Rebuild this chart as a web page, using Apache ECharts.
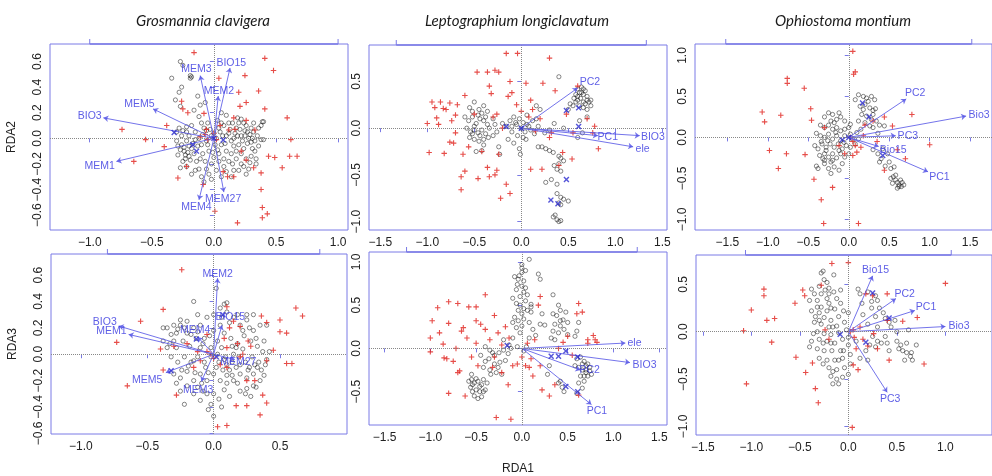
<!DOCTYPE html>
<html><head><meta charset="utf-8">
<script src="https://cdn.jsdelivr.net/npm/echarts@6/dist/echarts.min.js"></script>
<style>html,body{margin:0;padding:0;background:#fff}#c{width:992px;height:476px}</style>
</head><body><div id="c"></div>
<script>
// ---------- DATA ----------
const panelTitles = ['Grosmannia clavigera', 'Leptographium longiclavatum', 'Ophiostoma montium'];
const axisTitles = {rda1: 'RDA1', rda2: 'RDA2', rda3: 'RDA3'};

// tick labels
const ticksX1 = [-1, -0.5, 0, 0.5, 1];
const ticksY1 = [-0.6, -0.4, -0.2, 0, 0.2, 0.4, 0.6];
const ticksX2 = [-1.5, -1, -0.5, 0, 0.5, 1, 1.5];
const ticksY2 = [-1, -0.5, 0, 0.5];
const ticksX3 = [-1.5, -1, -0.5, 0, 0.5, 1, 1.5];
const ticksY3 = [-1, -0.5, 0, 0.5, 1];
const ticksX4 = [-1, -0.5, 0, 0.5];
const ticksY4 = [-0.6, -0.4, -0.2, 0, 0.2, 0.4, 0.6];
const ticksX5 = [-1.5, -1, -0.5, 0, 0.5, 1, 1.5];
const ticksY5 = [-0.5, 0, 0.5, 1];
const ticksX6 = [-1.5, -1, -0.5, 0, 0.5, 1, 1.5];
const ticksY6 = [-1, -0.5, 0, 0.5];

// Panel 1: Grosmannia clavigera, RDA1 vs RDA2
const p1Circles = [[-0.27,0.60],[-0.25,0.57],[-0.34,0.47],[-0.19,0.47],[-0.18,0.48],[-0.19,0.49],[-0.26,0.40],[-0.28,0.36],[-0.31,0.30],[-0.27,0.25],[-0.13,0.33],[-0.11,0.26],[-0.07,0.28],[-0.16,0.22],
[-0.28,0.08],[-0.25,0.06],[-0.22,0.09],[-0.3,-0.02],[-0.26,-0.05],[-0.24,-0.1],[-0.29,-0.13],[-0.25,-0.18],[-0.22,-0.22],[-0.27,-0.23],[-0.2,-0.14],[-0.18,-0.08],[-0.16,-0.12],[-0.14,-0.18],[-0.12,-0.24],[-0.1,-0.3],[-0.08,-0.34],[-0.18,-0.28],[-0.15,-0.25],[-0.2,0.02],[-0.15,0.05],[-0.12,0.0],[-0.1,-0.05],[-0.08,0.08],[-0.05,0.12],[-0.04,-0.1],[-0.02,-0.2],[0.0,-0.15],[0.02,-0.25],[0.04,-0.12],[0.06,-0.05],[0.05,0.05],[0.03,0.14],[0.08,0.1],[0.1,0.18],[0.12,0.04],[0.14,-0.02],[0.1,-0.1],[0.12,-0.18],[0.15,-0.2],[0.18,-0.1],[0.2,-0.05],[0.22,0.02],[0.18,0.08],[0.2,0.12],[0.25,0.06],[0.28,0.0],[0.3,-0.03],[0.32,0.05],[0.35,0.02],[0.38,-0.01],[0.36,-0.06],[0.33,-0.1],[0.3,-0.14],[0.26,-0.16],[0.24,-0.22],[0.2,-0.25],[0.28,-0.24],[0.32,0.12],[0.38,0.1],[0.4,0.13],[0.22,0.15],[0.15,0.12],[0.06,0.2],[0.0,0.04],[-0.02,0.02],[0.01,-0.05],[-0.06,-0.02],[0.08,-0.22],[0.06,-0.3],[-0.04,-0.28],[0.16,0.0],[0.26,0.1],[0.3,0.08],[-0.1,0.12],[-0.22,-0.02],[-0.2,-0.06],[-0.17,-0.04],[-0.26,0.02],[-0.3,0.05],[0.16,-0.06],[0.24,-0.08],[0.34,-0.16],[0.04,0.08],[-0.06,0.06],[0.1,0.02],[0.39,0.13],[0.4,-0.01],[0.26,-0.28],[0.14,-0.3],[-0.23,-0.16],[0.03,-0.09],
[-0.24,-0.07],[-0.21,-0.11],[-0.19,-0.17],[-0.23,-0.13],[-0.27,-0.09],[-0.13,-0.06],[-0.09,-0.12],[-0.07,-0.18],[-0.11,-0.16],[-0.05,-0.05],[0.02,0.0],[0.07,0.02],[0.09,-0.04],[0.13,0.07],[0.17,0.04],[0.19,0.02],[0.21,0.07],[0.23,-0.02],[0.25,0.02],[0.27,0.05],[0.29,0.03],[0.31,0.0],[0.33,-0.02],[0.27,-0.04],[0.22,-0.12],[0.18,-0.16],[0.14,-0.12],[0.08,-0.16],[0.04,-0.18],[-0.01,-0.11],[0.36,0.08],[0.34,-0.2],[0.29,-0.19],[0.31,-0.08],[0.12,0.12],[0.19,0.16],[0.24,0.12],[-0.03,0.07],[-0.09,0.03],[-0.15,-0.01],[-0.22,0.05],[-0.29,-0.06],[-0.18,0.1],[-0.12,0.17],[-0.02,-0.32],[0.1,-0.26],[-0.06,-0.24],[0.16,-0.25],[0.22,-0.2],[0.06,0.12]];
const p1Crosses = [[-0.16,0.67],[0.41,0.625],[0.48,0.53],[0.25,0.49],[0.04,0.47],[0.36,0.37],[0.41,0.23],[0.59,0.16],[0.2,0.36],[0.26,0.28],[-0.26,0.29],[-0.25,0.23],[-0.21,0.2],[-0.38,0.10],[-0.74,0.07],[-0.55,-0.01],[-0.645,-0.18],[-0.40,-0.065],[-0.29,-0.31],[-0.22,-0.22],[-0.086,-0.36],[0.008,-0.57],[0.19,-0.66],[0.39,-0.62],[0.43,-0.59],[0.39,-0.54],[0.38,-0.40],[0.38,-0.27],[0.55,-0.23],[0.61,-0.14],[0.67,-0.14],[0.49,-0.15],[0.44,-0.14],[0.62,-0.01],[0.32,-0.23],[0.26,-0.17],[0.16,-0.30],[0.11,-0.30],[0.075,-0.26],[0.21,0.25],[0.16,0.16],[0.12,0.065],[0.17,0.07],[0.26,0.14],[0.33,0.065],[-0.08,0.195],[-0.06,0.07],[-0.11,0.01],[-0.05,-0.01],[0.02,-0.01],[-0.07,0.03],[0.0,0.04],[0.22,-0.1],[0.05,0.1]];
const p1Centroids = [[-0.32,0.045],[-0.14,-0.10],[0.075,-0.013],[-0.17,-0.05],[0.0,0.0]];
const p1ArrowNames = ['BIO15','MEM3','MEM2','MEM5','BIO3','MEM1','MEM4','MEM27'];
const p1ArrowEnds = [[0.13,0.55],[-0.11,0.49],[0.035,0.33],[-0.49,0.23],[-0.89,0.16],[-0.785,-0.18],[-0.12,-0.48],[0.08,-0.42]];
const p1LabelPos = [[0.14,0.59],[-0.14,0.54],[0.04,0.37],[-0.6,0.268],[-1.0,0.17],[-0.92,-0.216],[-0.14,-0.534],[0.075,-0.474]];

// Panel 2: Leptographium longiclavatum, RDA1 vs RDA2
const p2Circles = [[-0.55,0.22],[-0.5,0.28],[-0.45,0.2],[-0.4,0.24],[-0.36,0.18],[-0.6,0.12],[-0.56,0.08],[-0.52,0.12],[-0.48,0.05],[-0.44,0.1],[-0.4,0.08],[-0.36,0.04],[-0.58,0.0],[-0.54,-0.04],[-0.5,-0.02],[-0.46,-0.05],[-0.42,-0.02],[-0.38,-0.06],[-0.34,0.0],[-0.55,-0.1],[-0.5,-0.12],[-0.45,-0.14],[-0.4,-0.12],[-0.35,-0.1],[-0.3,-0.08],[-0.48,-0.25],[-0.42,-0.24],[-0.3,0.1],[-0.28,0.04],[-0.26,-0.04],[-0.24,-0.2],[-0.23,-0.28],
[-0.2,0.05],[-0.16,0.02],[-0.12,0.08],[-0.1,-0.04],[-0.08,0.12],[-0.05,0.04],[-0.04,-0.08],[-0.02,0.1],[0.0,0.0],[0.02,0.06],[0.04,-0.04],[0.06,0.14],[0.08,0.02],[0.1,-0.02],[0.12,0.08],[0.14,-0.06],[0.16,0.1],[0.18,0.02],[-0.14,-0.12],[-0.08,-0.16],[-0.02,-0.22],[-0.01,-0.28],[0.05,-0.12],[0.2,0.2],[0.16,0.24],
[0.18,-0.2],[0.22,-0.2],[0.26,-0.22],[0.3,-0.24],[0.34,-0.26],[0.4,-0.3],[0.42,-0.32],[0.45,-0.35],[0.4,-0.38],[0.35,-0.4],[0.38,-0.44],[0.42,-0.46],[0.32,-0.55],[0.26,-0.58],[0.38,-0.7],[0.42,-0.74],[0.45,-0.76],[0.4,-0.8],[0.5,-0.78],[0.34,-0.95],[0.38,-0.98],[0.4,-1.0],[0.42,-0.99],[0.36,-0.93],
[0.6,0.42],[0.64,0.44],[0.66,0.42],[0.68,0.4],[0.62,0.38],[0.56,0.32],[0.58,0.28],[0.6,0.3],[0.63,0.32],[0.66,0.36],[0.7,0.34],[0.72,0.28],[0.74,0.24],[0.7,0.2],[0.66,0.22],[0.62,0.24],[0.55,0.24],[0.52,0.26],[0.58,0.36],[0.74,0.3],[0.68,0.26],[0.4,0.55],[0.5,0.2],[0.62,0.08],[0.65,-0.05],[0.6,-0.1],[0.7,0.12],[0.3,-0.02],[0.35,0.05],[0.25,-0.05],[0.45,0.0],
[-0.52,0.18],[-0.46,0.14],[-0.42,0.16],[-0.38,0.12],[-0.5,0.02],[-0.44,-0.08],[-0.52,-0.06],[-0.4,-0.18],[-0.06,0.06],[0.02,-0.1],[0.06,0.04],[-0.1,0.02],[0.64,0.38],[0.6,0.34],[0.7,0.3],[0.66,0.28],[0.38,-0.6],[0.42,-0.82]];
const p2Crosses = [[-1.0,0.05],[-0.98,-0.26],[-0.95,0.28],[-0.92,0.22],[-0.9,0.11],[-0.86,0.28],[-0.83,0.21],[-0.8,0.2],[-0.76,0.27],[-0.74,0.08],[-0.7,0.14],[-0.7,-0.05],[-0.68,0.25],[-0.64,-0.52],[-0.62,-0.28],[-0.6,-0.46],[-0.64,-0.66],[-0.72,-0.16],[-0.76,-0.15],[-0.82,-0.27],[-0.47,0.6],[-0.46,-0.54],[-0.42,-0.25],[-0.36,0.6],[-0.34,0.45],[-0.32,0.37],[-0.28,0.62],[-0.24,0.6],[-0.3,0.12],[-0.26,0.15],[-0.36,-0.42],[-0.34,-0.52],[-0.28,-0.5],[-0.26,-0.45],[-0.24,-0.28],[-0.22,-0.75],[-0.16,-0.6],[-0.12,-0.7],[-0.12,0.5],[-0.1,0.38],[-0.04,0.8],[-0.16,0.8],[-0.05,0.25],[0.05,0.48],[0.1,0.3],[0.12,0.2],[0.08,0.12],[0.2,0.1],[0.23,0.48],[0.3,0.75],[0.36,0.4],[0.32,-0.05],[0.3,-0.1],[0.22,-0.44],[0.1,-0.44],[0.4,-0.4],[0.44,-0.26],[0.54,-0.33],[0.55,-0.05],[0.7,0.1],[0.78,0.02],[0.82,-0.22],[0.76,-0.05],[0.6,0.45],[0.48,0.15],[-0.6,0.35],[-0.5,0.15],[-0.2,0.0],[0.0,0.18],[0.15,-0.03],[-0.14,0.34],[-0.56,-0.2],[-0.88,0.04]];
const p2Centroids = [[-0.16,0.017],[0.48,0.19],[0.61,0.217],[0.61,0.017],[0.48,-0.55],[0.315,-0.77],[0.39,-0.81],[0.0,0.0]];
const p2ArrowNames = ['PC2','PC1','BIO3','ele'];
const p2ArrowEnds = [[0.6,0.43],[0.815,-0.08],[1.26,-0.08],[1.19,-0.2]];
const p2LabelPos = [[0.73,0.49],[0.92,-0.094],[1.40,-0.098],[1.29,-0.227]];

// Panel 3: Ophiostoma montium, RDA1 vs RDA2
const p3Circles = [[-0.3,0.25],[-0.25,0.3],[-0.2,0.28],[-0.15,0.22],[-0.1,0.25],[-0.05,0.2],[-0.35,0.15],[-0.3,0.12],[-0.25,0.15],[-0.2,0.1],[-0.15,0.12],[-0.1,0.08],[-0.05,0.1],[0.0,0.12],[-0.4,0.05],[-0.35,0.02],[-0.3,0.0],[-0.25,0.04],[-0.2,-0.02],[-0.15,0.02],[-0.1,-0.04],[-0.05,0.02],[0.02,0.04],[0.05,-0.02],[-0.42,-0.1],[-0.38,-0.14],[-0.33,-0.08],[-0.28,-0.12],[-0.23,-0.08],[-0.18,-0.12],[-0.13,-0.08],[-0.08,-0.14],[-0.03,-0.1],[0.02,-0.12],[-0.36,-0.22],[-0.3,-0.2],[-0.25,-0.24],[-0.2,-0.2],[-0.15,-0.25],[-0.1,-0.2],[-0.05,-0.24],[0.0,-0.2],[-0.4,-0.35],[-0.38,-0.38],[-0.3,-0.32],[-0.25,-0.38],[-0.18,-0.36],[-0.12,-0.4],[-0.08,-0.32],[-0.22,-0.44],[0.08,-0.08],[0.1,0.06],[0.12,-0.02],[0.15,0.1],[-0.12,0.3],[-0.28,-0.16],[-0.34,-0.05],[-0.18,0.18],[-0.3,-0.28],[-0.22,-0.3],
[0.08,0.46],[0.12,0.52],[0.18,0.5],[0.22,0.48],[0.28,0.5],[0.32,0.46],[0.14,0.38],[0.2,0.4],[0.26,0.36],[0.3,0.33],[0.33,0.35],[0.16,0.28],[0.22,0.26],[0.28,0.22],[0.34,0.2],[0.12,0.2],[0.2,0.18],[0.26,0.14],[0.3,0.12],[0.38,0.15],[0.44,0.14],[0.36,0.05],
[0.3,-0.15],[0.36,-0.2],[0.38,-0.3],[0.4,-0.26],[0.45,-0.35],[0.5,-0.3],[0.52,-0.38],[0.56,-0.36],[0.55,-0.48],[0.52,-0.5],[0.58,-0.52],[0.6,-0.55],[0.62,-0.58],[0.65,-0.6],[0.68,-0.58],[0.66,-0.55],[0.6,-0.62],[0.54,-0.56],[0.48,-0.2],[0.42,-0.14],
[-0.22,0.2],[-0.16,0.06],[-0.26,-0.04],[-0.12,-0.16],[-0.2,-0.28],[-0.32,-0.26],[-0.06,-0.06],[0.02,0.16],[0.24,0.44],[0.18,0.34],[0.3,0.28],[0.62,-0.6],[0.58,-0.46],[0.64,-0.52]];
const p3Crosses = [[-1.07,0.31],[-1.04,0.19],[-0.76,0.72],[-0.76,0.66],[-0.55,0.6],[-0.84,0.27],[-0.47,0.35],[-0.46,0.21],[-0.98,-0.16],[-0.77,-0.2],[-0.54,-0.21],[-0.87,-0.38],[-0.43,-0.51],[-0.34,-0.76],[-0.31,-1.05],[-0.2,-0.61],[0.05,1.05],[0.08,0.8],[0.06,0.77],[0.12,-1.05],[0.44,0.25],[0.54,0.14],[0.78,0.28],[1.0,-0.09],[0.7,-0.26],[0.44,-0.4],[0.02,0.0],[0.05,-0.05],[0.08,-0.1],[0.1,-0.18],[0.15,-0.12],[0.18,0.02],[-0.05,-0.2],[0.2,0.15],[0.3,0.2],[0.35,-0.05],[0.6,-0.15],[0.05,-0.22],[-0.3,0.12],[-0.12,-0.1]];
const p3Centroids = [[0.17,0.42],[0.25,0.25],[-0.08,-0.03],[0.42,-0.22],[0.0,0.0]];
const p3ArrowNames = ['PC2','Bio3','PC3','Bio15','PC1'];
const p3ArrowEnds = [[0.71,0.47],[1.45,0.26],[0.58,0.02],[0.37,-0.11],[0.98,-0.42]];
const p3LabelPos = [[0.82,0.54],[1.61,0.27],[0.73,0.02],[0.55,-0.157],[1.12,-0.49]];

// Panel 4: Grosmannia clavigera, RDA1 vs RDA3
const p4Circles = [[-0.35,0.2],[-0.3,0.22],[-0.25,0.26],[-0.2,0.25],[-0.15,0.2],[-0.1,0.22],[-0.05,0.28],[0.0,0.3],[0.05,0.35],[0.1,0.32],[0.15,0.28],[0.2,0.22],[0.25,0.26],[0.3,0.3],[0.35,0.22],[-0.15,0.4],[0.02,0.5],[0.1,0.39],[0.08,0.38],[-0.38,0.1],[-0.33,0.08],[-0.28,0.05],[-0.23,0.1],[-0.18,0.06],[-0.13,0.12],[-0.08,0.08],[-0.03,0.14],[0.03,0.1],[0.08,0.16],[0.13,0.12],[0.18,0.08],[0.23,0.14],[0.28,0.1],[0.33,0.06],[0.38,0.1],[0.42,0.02],[-0.32,-0.02],[-0.27,-0.06],[-0.22,-0.02],[-0.17,-0.06],[-0.12,-0.02],[-0.07,-0.06],[-0.02,-0.02],[0.04,-0.06],[0.09,-0.02],[0.14,-0.06],[0.19,-0.02],[0.24,-0.06],[0.29,-0.02],[0.34,-0.06],[0.4,-0.04],[-0.3,-0.15],[-0.25,-0.18],[-0.2,-0.13],[-0.15,-0.2],[-0.1,-0.15],[-0.05,-0.2],[0.0,-0.15],[0.05,-0.2],[0.1,-0.16],[0.15,-0.2],[0.2,-0.15],[0.25,-0.18],[0.3,-0.15],[0.36,-0.12],[-0.25,-0.28],[-0.15,-0.3],[-0.08,-0.28],[0.0,-0.3],[0.08,-0.27],[0.12,-0.32],[0.2,-0.28],[0.25,-0.26],[0.28,-0.32],[-0.22,-0.38],[-0.02,-0.38],[0.06,-0.4],[0.0,-0.47],[-0.05,-0.3],[0.3,0.18],[0.15,0.0],[-0.1,0.05],[0.06,0.05],[-0.2,0.16],[0.22,0.04],[0.32,-0.25],[0.1,-0.08],[-0.28,0.16],[0.05,0.22],[-0.06,-0.1],[0.17,-0.1],[-0.38,0.2],[0.4,0.22],[0.27,-0.1],[-0.12,-0.25],
[-0.32,0.15],[-0.27,0.19],[-0.22,0.2],[-0.17,0.15],[-0.12,0.17],[-0.07,0.12],[-0.02,0.05],[0.03,0.0],[0.07,-0.12],[0.12,-0.12],[0.17,0.05],[0.22,0.18],[0.27,0.2],[0.32,0.12],[0.37,0.02],[0.39,-0.08],[0.35,-0.2],[0.3,-0.24],[0.24,-0.3],[0.18,-0.22],[0.14,-0.16],[0.02,-0.1],[-0.04,-0.14],[-0.09,-0.22],[-0.14,-0.14],[-0.19,-0.09],[-0.24,-0.12],[-0.28,-0.22],[-0.2,-0.24],[-0.1,-0.35],[-0.04,-0.42],[0.04,-0.34],[0.1,-0.22],[0.2,-0.08],[0.26,-0.12],[0.31,-0.08],[0.12,0.24],[0.18,0.3],[0.25,0.3],[-0.25,0.22],[-0.35,0.05],[-0.3,0.1],[0.06,0.28],[0.0,0.18],[0.14,0.06],[-0.15,-0.05],[0.08,-0.04],[0.33,-0.1],[0.38,-0.16],[-0.12,0.3]];
const p4Crosses = [[-0.24,0.64],[-0.38,0.34],[-0.55,0.25],[-0.73,0.09],[-0.4,0.04],[-0.38,-0.12],[-0.65,-0.24],[-0.28,-0.31],[0.03,-0.55],[0.1,-0.54],[0.17,-0.39],[0.25,-0.39],[0.35,-0.46],[0.37,-0.31],[0.4,-0.37],[0.31,-0.2],[0.4,-0.05],[0.45,0.03],[0.55,-0.07],[0.59,-0.07],[0.62,0.35],[0.67,0.29],[0.5,0.26],[0.5,0.17],[0.55,0.16],[0.4,0.24],[0.36,0.29],[0.1,0.36],[0.15,0.25],[0.2,0.21],[0.1,0.05],[0.18,0.08],[0.2,-0.02],[0.22,0.0],[-0.02,0.0],[-0.05,0.02],[0.0,-0.03],[0.05,-0.08],[-0.1,-0.05],[-0.2,0.08],[-0.3,0.06],[0.28,0.06],[0.25,-0.2],[0.1,-0.1],[-0.15,-0.1],[-0.12,0.02],[0.08,0.12],[0.26,0.1],[0.12,0.2],[-0.05,0.15]];
const p4Centroids = [[-0.13,0.116],[-0.32,-0.126],[0.07,0.3],[0.02,-0.02]];
const p4ArrowNames = ['MEM2','BIO15','BIO3','MEM1','MEM4','MEM27','MEM5','MEM3'];
const p4ArrowEnds = [[0.03,0.576],[0.063,0.22],[-0.715,0.214],[-0.64,0.15],[-0.12,0.13],[0.16,-0.04],[-0.36,-0.14],[-0.092,-0.207]];
const p4LabelPos = [[0.03,0.61],[0.126,0.28],[-0.82,0.24],[-0.77,0.176],[-0.138,0.184],[0.186,-0.058],[-0.5,-0.195],[-0.116,-0.27]];

// Panel 5: Leptographium longiclavatum, RDA1 vs RDA3
const p5Circles = [[0.08,1.03],[0.0,0.97],[0.0,0.93],[0.0,0.88],[-0.08,0.83],[-0.04,0.8],[0.02,0.78],[0.18,0.86],[0.2,0.8],[-0.05,0.74],[0.0,0.72],[0.04,0.7],[-0.06,0.68],[0.02,0.65],[-0.02,0.6],[0.04,0.55],[-0.1,0.58],[-0.02,0.5],[0.1,0.51],[0.1,0.48],[-0.04,0.44],[0.0,0.4],[0.06,0.44],[-0.08,0.36],[-0.04,0.32],[0.02,0.34],[0.1,0.42],[-0.1,0.3],[0.0,0.26],[-0.06,0.24],[0.22,0.4],[0.2,0.28],[0.25,0.27],[0.15,0.15],[0.08,0.12],[-0.1,0.12],[-0.2,0.1],[-0.14,0.04],
[0.34,0.4],[0.38,0.38],[0.42,0.32],[0.36,0.28],[0.34,0.2],[0.32,0.12],[0.42,0.26],[0.42,0.44],[0.4,0.5],[0.34,0.62],[0.48,0.42],[0.45,0.33],[0.4,0.18],[0.5,0.16],[0.6,0.2],[0.62,0.3],[0.58,0.14],
[0.6,-0.12],[0.64,-0.1],[0.68,-0.15],[0.7,-0.2],[0.72,-0.18],[0.74,-0.22],[0.66,-0.25],[0.7,-0.28],[0.72,-0.32],[0.76,-0.3],[0.64,-0.32],[0.68,-0.38],[0.58,-0.2],[0.62,-0.4],[0.66,-0.46],[0.6,-0.52],[0.42,-0.38],[0.44,-0.45],[0.4,-0.4],[0.46,-0.5],[0.28,-0.3],[0.3,-0.2],
[-0.58,-0.38],[-0.55,-0.36],[-0.52,-0.4],[-0.48,-0.38],[-0.44,-0.42],[-0.56,-0.45],[-0.5,-0.48],[-0.46,-0.5],[-0.52,-0.55],[-0.48,-0.58],[-0.44,-0.56],[-0.4,-0.48],[-0.42,-0.36],[-0.38,-0.4],[-0.55,-0.3],
[-0.4,0.02],[-0.35,-0.02],[-0.3,-0.08],[-0.25,-0.05],[-0.2,-0.02],[-0.15,-0.06],[-0.36,-0.12],[-0.3,-0.18],[-0.24,-0.16],[-0.18,-0.14],[-0.42,-0.22],[-0.35,-0.25],[-0.28,-0.28],[-0.22,-0.3],[-0.45,-0.08],[-0.4,-0.15],[-0.12,0.0],[-0.05,0.02],[0.02,-0.03],[0.05,0.02],
[0.04,0.9],[-0.03,0.84],[0.06,0.62],[-0.06,0.52],[0.02,0.46],[0.08,0.3],[-0.02,0.18],[0.12,0.22],[-0.54,-0.42],[-0.5,-0.35],[-0.46,-0.44],[-0.42,-0.5],[-0.54,-0.5],[0.7,-0.25],[0.66,-0.18],[0.74,-0.26],[0.62,-0.22],[0.68,-0.32],[-0.32,-0.05],[-0.26,-0.22],[-0.34,-0.3],[0.5,0.3],[0.46,0.22],[0.36,0.1]];
const p5Crosses = [[-1.0,0.12],[-1.0,-0.04],[-0.98,0.32],[-0.92,0.47],[-0.9,0.18],[-0.86,0.05],[-0.85,-0.11],[-0.82,-0.12],[-0.8,0.54],[-0.8,0.29],[-0.8,-0.52],[-0.75,-0.15],[-0.72,0.0],[-0.7,0.52],[-0.7,-0.28],[-0.68,-0.26],[-0.66,0.2],[-0.64,0.24],[-0.62,-0.55],[-0.6,0.12],[-0.58,0.48],[-0.55,-0.1],[-0.5,0.48],[-0.5,0.32],[-0.5,0.06],[-0.48,-0.2],[-0.45,0.28],[-0.4,0.62],[-0.4,0.22],[-0.35,0.1],[-0.32,-0.22],[-0.3,0.38],[-0.3,-0.1],[-0.26,0.18],[-0.22,0.04],[-0.28,-0.8],[-0.22,-0.28],[-0.15,-0.42],[-0.12,-0.82],[-0.1,-0.2],[-0.05,-0.18],[0.0,-0.1],[0.04,-0.2],[0.08,-0.22],[0.1,-0.12],[0.12,-0.32],[0.2,0.6],[0.18,0.5],[0.2,-0.2],[0.22,-0.48],[0.3,-0.55],[0.36,-0.42],[0.4,0.0],[0.45,0.07],[0.5,0.14],[0.55,-0.08],[0.6,0.4],[0.62,0.52],[0.66,0.42],[0.72,0.1],[0.72,0.06],[0.78,0.15],[0.8,0.1],[0.82,0.07],[0.62,-0.54],[-0.18,0.25],[-0.14,0.12],[0.14,0.1],[0.06,0.06]];
const p5Centroids = [[-0.16,0.033],[0.48,-0.03],[0.32,-0.09],[0.4,-0.09],[0.61,-0.1],[0.48,-0.44],[0.61,-0.5]];
const p5ArrowNames = ['ele','BIO3','PC2','PC1'];
const p5ArrowEnds = [[1.13,0.062],[1.18,-0.164],[0.64,-0.25],[0.76,-0.65]];
const p5LabelPos = [[1.23,0.062],[1.34,-0.19],[0.74,-0.25],[0.82,-0.72]];

// Panel 6: Ophiostoma montium, RDA1 vs RDA3
const p6Circles = [[-0.26,0.64],[-0.28,0.62],[-0.25,0.55],[-0.22,0.52],[-0.3,0.48],[-0.2,0.46],[-0.38,0.45],[-0.15,0.42],[-0.35,0.4],[-0.28,0.4],[-0.4,0.33],[-0.32,0.33],[-0.22,0.35],[-0.12,0.35],[-0.2,0.3],[-0.28,0.26],[-0.38,0.22],[-0.3,0.2],[-0.22,0.22],[-0.14,0.24],[-0.05,0.22],[-0.25,0.15],[-0.18,0.12],[-0.1,0.16],[-0.35,0.1],[-0.28,0.08],[-0.2,0.05],[-0.12,0.06],[-0.04,0.1],[0.0,0.2],[-0.32,0.0],[-0.25,-0.02],[-0.18,-0.03],[-0.1,-0.01],[-0.02,0.02],[-0.38,-0.1],[-0.3,-0.08],[-0.22,-0.1],[-0.14,-0.12],[-0.06,-0.08],[-0.4,-0.16],[-0.32,-0.18],[-0.25,-0.2],[-0.17,-0.2],[-0.08,-0.2],[0.0,-0.14],[-0.3,-0.28],[-0.22,-0.3],[-0.14,-0.3],[-0.06,-0.28],[0.02,-0.24],[-0.2,-0.38],[-0.12,-0.4],[-0.04,-0.38],[0.02,-0.34],[-0.18,-0.47],[-0.12,-0.5],[-0.06,-0.48],[-0.1,-0.55],[-0.16,-0.55],[0.0,-0.45],[-0.34,0.16],[-0.08,0.3],[-0.36,-0.02],[-0.2,0.4],[-0.15,0.6],[-0.05,-0.2],
[0.1,0.45],[0.12,0.4],[0.2,0.42],[0.28,0.38],[0.3,0.33],[0.24,0.32],[0.32,0.25],[0.28,0.16],[0.38,0.14],[0.42,0.1],[0.48,0.12],[0.44,0.05],[0.5,0.0],[0.62,0.02],[0.15,0.18],[0.2,0.08],[0.25,-0.05],[0.3,-0.1],[0.22,-0.14],[0.18,-0.2],[0.28,-0.16],[0.34,-0.12],[0.42,-0.2],[0.5,-0.1],[0.54,-0.14],[0.56,-0.2],[0.6,-0.22],[0.58,-0.3],[0.64,-0.26],[0.66,-0.3],[0.7,-0.14],[0.65,-0.22],[0.12,-0.28],[0.2,-0.3],[0.08,-0.1],[0.3,0.05],[0.38,-0.05],
[-0.24,0.44],[-0.18,0.25],[-0.3,0.12],[-0.16,0.05],[-0.26,-0.12],[-0.18,-0.12],[-0.1,-0.3],[-0.26,-0.34],[-0.16,-0.42],[-0.08,0.44],[-0.32,0.26],[0.0,-0.06],[0.24,0.25],[0.36,0.2],[0.52,-0.18],[0.6,-0.12],[0.4,-0.12],[0.14,0.3]];
const p6Crosses = [[-0.17,0.72],[0.0,0.73],[-0.28,0.49],[-0.87,0.45],[-0.87,0.38],[-1.0,0.23],[-0.47,0.44],[-0.45,0.38],[-0.55,0.3],[-0.84,0.12],[-0.76,0.14],[-1.08,0.01],[-0.79,-0.11],[-0.54,-0.27],[-0.37,-0.33],[-0.44,-0.43],[-1.05,-0.55],[-0.34,-0.6],[-0.31,-0.75],[0.04,-1.01],[1.0,0.51],[0.71,0.15],[0.78,-0.34],[0.42,-0.3],[0.4,0.4],[0.05,-0.35],[0.1,-0.4],[0.02,0.0],[0.05,0.02],[0.06,-0.06],[0.12,0.05],[0.15,-0.08],[0.2,-0.15],[0.25,0.38],[0.18,0.4],[0.4,0.12],[0.56,0.11],[-0.2,-0.08],[0.3,-0.18],[0.26,-0.02],[-0.24,0.02],[0.08,-0.18]];
const p6Centroids = [[0.25,0.41],[0.42,0.145],[-0.085,-0.028],[0.18,-0.11]];
const p6ArrowNames = ['Bio15','PC2','PC1','Bio3','PC3'];
const p6ArrowEnds = [[0.25,0.59],[0.49,0.35],[0.685,0.224],[1.0,0.055],[0.40,-0.64]];
const p6LabelPos = [[0.28,0.655],[0.58,0.40],[0.80,0.26],[1.14,0.055],[0.43,-0.71]];

// ---------- LAYOUT ----------
const panels = [
  {grid:{left:50,top:44,width:298,height:186}, x:[-1.32,1.08], y:[-0.716,0.737], xt:ticksX1, yt:ticksY1, topSeg:[-1,1], c:p1Circles, r:p1Crosses, k:p1Centroids, n:p1ArrowNames, e:p1ArrowEnds, l:p1LabelPos, yName:axisTitles.rda2},
  {grid:{left:369,top:45,width:298,height:185}, x:[-1.62,1.55], y:[-1.09,0.89], xt:ticksX2, yt:ticksY2, topSeg:[-1.33,1.33], c:p2Circles, r:p2Crosses, k:p2Centroids, n:p2ArrowNames, e:p2ArrowEnds, l:p2LabelPos},
  {grid:{left:695,top:44,width:300,height:186}, x:[-1.90,1.77], y:[-1.13,1.14], xt:ticksX3, yt:ticksY3, topSeg:[-1.52,1.52], c:p3Circles, r:p3Crosses, k:p3Centroids, n:p3ArrowNames, e:p3ArrowEnds, l:p3LabelPos},
  {grid:{left:51,top:254,width:296,height:180}, x:[-1.225,1.005], y:[-0.605,0.76], xt:ticksX4, yt:ticksY4, topSeg:[-0.8,0.8], c:p4Circles, r:p4Crosses, k:p4Centroids, n:p4ArrowNames, e:p4ArrowEnds, l:p4LabelPos, yName:axisTitles.rda3},
  {grid:{left:369,top:252,width:298,height:183}, x:[-1.67,1.585], y:[-0.886,1.115], xt:ticksX5, yt:ticksY5, topSeg:[-1.26,1.26], c:p5Circles, r:p5Crosses, k:p5Centroids, n:p5ArrowNames, e:p5ArrowEnds, l:p5LabelPos, xName:axisTitles.rda1},
  {grid:{left:696,top:255,width:300,height:180}, x:[-1.57,1.48], y:[-1.09,0.81], xt:ticksX6, yt:ticksY6, topSeg:[-1.06,1.06], c:p6Circles, r:p6Crosses, k:p6Centroids, n:p6ArrowNames, e:p6ArrowEnds, l:p6LabelPos}
];

const BOX = '#7a7ae6';
const fmt = v => (v < 0 ? '\u2212' : '') + Math.abs(v).toFixed(1);
const PLUS = 'path://M4,0H6V4H10V6H6V10H4V6H0V4H4Z';
const TXT = 'Liberation Sans, Arial, sans-serif';

const grids = [], xAxes = [], yAxes = [], series = [];
panels.forEach((p, i) => {
  grids.push(Object.assign({show:true, borderColor:BOX, borderWidth:1, containLabel:false}, p.grid));
  xAxes.push({
    gridIndex:i, type:'value', min:p.x[0], max:p.x[1],
    axisLine:{show:false}, splitLine:{show:false},
    axisTick:{show:true, customValues:p.xt, length:4, lineStyle:{color:BOX}},
    axisLabel:{customValues:p.xt, formatter:fmt, fontSize:12, color:'#222', margin:7, fontFamily:TXT},
    name:p.xName || '', nameLocation:'middle', nameGap:38,
    nameTextStyle:{fontSize:12, color:'#222', fontFamily:TXT}
  });
  yAxes.push({
    gridIndex:i, type:'value', min:p.y[0], max:p.y[1],
    axisLine:{show:false}, splitLine:{show:false},
    axisTick:{show:true, customValues:p.yt, length:4, lineStyle:{color:BOX}},
    axisLabel:{customValues:p.yt, formatter:fmt, fontSize:12, color:'#222', margin:6, rotate:90, fontFamily:TXT},
    name:p.yName || '', nameLocation:'middle', nameGap:32, nameRotate:90,
    nameTextStyle:{fontSize:12, color:'#222', fontFamily:TXT}
  });
  const ax = {xAxisIndex:i, yAxisIndex:i};
  series.push(Object.assign({
    type:'scatter', data:p.c, symbol:'circle', symbolSize:4.2, silent:true, z:2,
    itemStyle:{color:'rgba(0,0,0,0)', borderColor:'rgba(0,0,0,0.65)', borderWidth:0.9},
    markLine:{silent:true, symbol:'none', label:{show:false},
      lineStyle:{type:'dotted', color:'#888', width:1},
      data:[{xAxis:0},{yAxis:0}]}
  }, ax));
  series.push(Object.assign({
    type:'scatter', data:p.r, symbol:PLUS, symbolSize:5.5, silent:true, z:3,
    itemStyle:{color:'#e0201c'}
  }, ax));
  series.push(Object.assign({
    type:'lines', coordinateSystem:'cartesian2d', silent:true, z:4,
    data:p.e.map(e => ({coords:[[0,0], e]})),
    symbol:['none','arrow'], symbolSize:5,
    lineStyle:{color:'#5a5ae6', width:1, opacity:0.85}
  }, ax));
  series.push(Object.assign({
    type:'scatter', data:p.k, symbol:PLUS, symbolRotate:45, symbolSize:7, silent:true, z:5,
    itemStyle:{color:'#2a2ad0'}
  }, ax));
  series.push(Object.assign({
    type:'scatter', silent:true, z:6, symbolSize:1, itemStyle:{color:'rgba(0,0,0,0)'},
    data:p.n.map((nm, j) => ({name:nm, value:p.l[j]})),
    label:{show:true, position:'inside', formatter:'{b}', color:'#3434e0', fontSize:10.5, fontFamily:TXT}
  }, ax));
  series.push(Object.assign({
    type:'line', silent:true, z:7, clip:false,
    data:[[p.topSeg[0], p.y[1]], [p.topSeg[1], p.y[1]]],
    symbol:'rect', symbolSize:[1,5], symbolOffset:[0,-2.5], showSymbol:true,
    itemStyle:{color:BOX}, lineStyle:{color:BOX, width:1.6}
  }, ax));
});

const titleX = [203, 517, 843];
const chart = echarts.init(document.getElementById('c'), null, {renderer:'canvas'});
chart.setOption({
  animation:false,
  backgroundColor:'#fff',
  grid:grids, xAxis:xAxes, yAxis:yAxes, series:series,
  graphic: panelTitles.map((t, i) => ({
    type:'text', x:titleX[i], y:21, silent:true,
    style:{text:t, font:'italic 15px Lato, "Open Sans", sans-serif', fill:'#1a1a1a', textAlign:'center', textVerticalAlign:'middle'}
  }))
});
</script></body></html>
